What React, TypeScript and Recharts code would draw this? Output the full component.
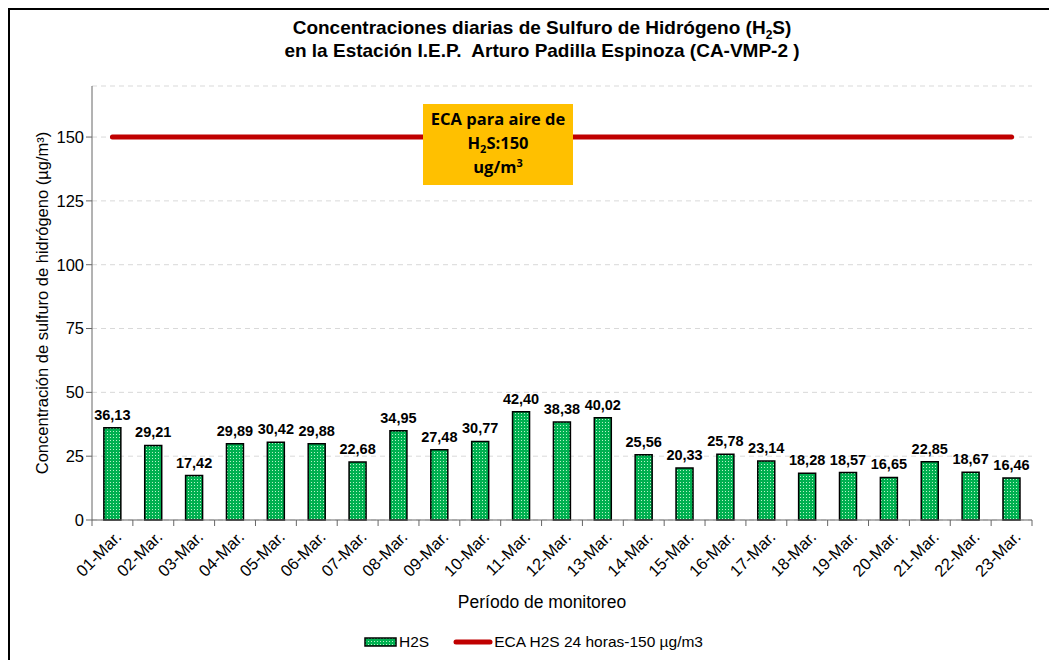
import { ComposedChart, Bar, Line, XAxis, YAxis, CartesianGrid, LabelList, Legend } from "recharts";

const fechas = [
  "01-Mar.", "02-Mar.", "03-Mar.", "04-Mar.", "05-Mar.", "06-Mar.", "07-Mar.", "08-Mar.",
  "09-Mar.", "10-Mar.", "11-Mar.", "12-Mar.", "13-Mar.", "14-Mar.", "15-Mar.", "16-Mar.",
  "17-Mar.", "18-Mar.", "19-Mar.", "20-Mar.", "21-Mar.", "22-Mar.", "23-Mar.",
];
const h2s = [
  36.13, 29.21, 17.42, 29.89, 30.42, 29.88, 22.68, 34.95, 27.48, 30.77, 42.4, 38.38,
  40.02, 25.56, 20.33, 25.78, 23.14, 18.28, 18.57, 16.65, 22.85, 18.67, 16.46,
];
const ecaLimite = 150;
const yTicks = [0, 25, 50, 75, 100, 125, 150];

const data = fechas.map((f, i) => ({ fecha: f, h2s: h2s[i], eca: ecaLimite }));

const W = 1047;
const H = 650;
const M = { top: 76, right: 25, left: 20, bottom: 30 };
const Y_W = 62;
const band = (W - M.left - M.right - Y_W) / fechas.length;
const font = "'Liberation Sans', Arial, sans-serif";

const fmt = (v: any) => Number(v).toFixed(2).replace(".", ",");

const XTick = (props: any) => {
  const { x, y, payload, index } = props;
  return (
    <g>
      <line x1={x - band / 2} x2={x - band / 2} y1={y - 8} y2={y - 2} stroke="#666" />
      {index === fechas.length - 1 && (
        <line x1={x + band / 2} x2={x + band / 2} y1={y - 8} y2={y - 2} stroke="#666" />
      )}
      <text
        x={x + 7}
        y={y + 7}
        transform={`rotate(-45, ${x + 7}, ${y + 7})`}
        textAnchor="end"
        dominantBaseline="middle"
        fontSize={16.5}
        fontFamily={font}
        fill="#000"
      >
        {payload.value}
      </text>
    </g>
  );
};

const LegendBox = () => (
  <div style={{ display: "flex", justifyContent: "center", alignItems: "center", fontFamily: font, fontSize: 15.5, color: "#000", height: 20 }}>
    <svg width={33} height={10} style={{ marginRight: 2 }}>
      <rect x={1} y={1} width={31} height={8} fill="url(#puntos)" stroke="#000" strokeWidth={1.5} />
    </svg>
    <span style={{ marginRight: 24 }}>H2S</span>
    <svg width={40} height={10} style={{ marginRight: 1 }}>
      <line x1={3} x2={37} y1={5} y2={5} stroke="#C00000" strokeWidth={5} strokeLinecap="round" />
    </svg>
    <span>ECA H2S 24 horas-150 µg/m3</span>
  </div>
);

export default function App() {
  return (
    <div style={{ position: "relative", width: W, height: H, borderLeft: "2px solid #000", borderTop: "2px solid #000", background: "#fff" }}>
      <div style={{ position: "absolute", top: 6, left: 0, width: 1064, textAlign: "center", fontFamily: font, fontWeight: "bold", fontSize: 19, lineHeight: "23px", color: "#000", zIndex: 2 }}>
        Concentraciones diarias de Sulfuro de Hidrógeno (H<sub style={{ fontSize: 12, lineHeight: 0 }}>2</sub>S)
        <br />
        en la Estación I.E.P.&nbsp; Arturo Padilla Espinoza (CA-VMP-2 )
      </div>
      <div style={{ position: "absolute", left: 413, top: 94, width: 150, height: 81, background: "#FFC000", zIndex: 2, fontFamily: "'Open Sans', 'Liberation Sans', sans-serif", fontWeight: "bold", fontSize: 16.5, lineHeight: "24px", textAlign: "center", color: "#000", paddingTop: 3, boxSizing: "border-box" }}>
        ECA para aire de
        <br />
        H<sub style={{ fontSize: 11, lineHeight: 0 }}>2</sub>S:150
        <br />
        ug/m<sup style={{ fontSize: 11, lineHeight: 0 }}>3</sup>
      </div>
      <ComposedChart width={W} height={H} data={data} margin={M} barCategoryGap="29%">
        <defs>
          <pattern id="puntos" width={3} height={3} patternUnits="userSpaceOnUse">
            <rect width={3} height={3} fill="#00B050" />
            <rect x={1} y={1} width={1} height={1} fill="#B6F2C8" />
          </pattern>
        </defs>
        <CartesianGrid vertical={false} stroke="#D9D9D9" strokeDasharray="5 4" />
        <XAxis
          dataKey="fecha"
          height={90}
          interval={0}
          tickLine={false}
          axisLine={{ stroke: "#666" }}
          tick={<XTick />}
          label={{ value: "Período de monitoreo", position: "insideBottom", offset: 2, dx: -20, fontSize: 17.5, fontFamily: font, fill: "#000" }}
        />
        <YAxis
          width={Y_W}
          domain={[0, 170]}
          ticks={yTicks}
          interval={0}
          tickSize={6}
          tickLine={{ stroke: "#666" }}
          axisLine={{ stroke: "#666" }}
          tick={{ fontSize: 16.5, fontFamily: font, fill: "#000" }}
          label={{
            value: "Concentración de sulfuro de hidrógeno  (µg/m³)",
            angle: -90,
            position: "insideLeft",
            offset: 12,
            style: { textAnchor: "middle", fontSize: 16.5, fontFamily: font, fill: "#000" },
          }}
        />
        <Bar dataKey="h2s" name="H2S" fill="url(#puntos)" stroke="#000" strokeWidth={1.5} isAnimationActive={false}>
          <LabelList dataKey="h2s" position="top" offset={8} formatter={fmt} style={{ fontSize: 14.5, fontWeight: "bold", fontFamily: font, fill: "#000" }} />
        </Bar>
        <Line dataKey="eca" name="ECA H2S 24 horas-150 µg/m3" stroke="#C00000" strokeWidth={5} strokeLinecap="round" dot={false} activeDot={false} isAnimationActive={false} />
        <Legend content={<LegendBox />} wrapperStyle={{ position: "absolute", top: 622, left: 0, width: W }} />
      </ComposedChart>
    </div>
  );
}
